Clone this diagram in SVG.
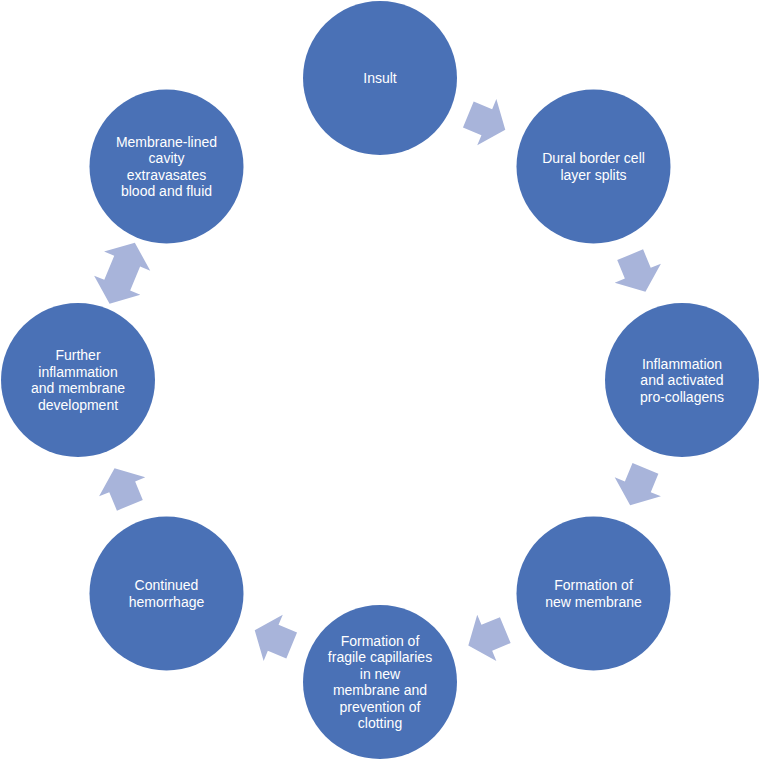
<svg xmlns="http://www.w3.org/2000/svg" width="760" height="760" viewBox="0 0 760 760">
<style>
.node{fill:#4A71B6}
.lbl{font-family:"Liberation Sans",Arial,sans-serif;font-size:14px;fill:#FFFFFF;text-anchor:middle}
.arr{fill:#A8B4DA}
</style>
<defs>
<path id="a1" d="M20,0 L0,-25 L0,-14 L-20,-14 L-20,14 L0,14 L0,25 Z"/>
<path id="a2" d="M33,0 L13,-25 L13,-14 L-13,-14 L-13,-25 L-33,0 L-13,25 L-13,14 L13,14 L13,25 Z"/>
</defs>
<rect width="760" height="760" fill="#FFFFFF"/>
<g id="connectors" class="arr">
<use href="#a1" transform="translate(486.8,122.2) rotate(22.5)"/>
<use href="#a1" transform="translate(637.8,273.2) rotate(67.5)"/>
<use href="#a1" transform="translate(637.8,486.8) rotate(112.5)"/>
<use href="#a1" transform="translate(486.8,637.8) rotate(157.5)"/>
<use href="#a1" transform="translate(273.2,637.8) rotate(202.5)"/>
<use href="#a1" transform="translate(122.2,486.8) rotate(247.5)"/>
<use href="#a2" transform="translate(122.2,273.2) rotate(292.5)"/>
</g>
<g id="insult">
<circle class="node" cx="380" cy="78" r="77"/>
<text class="lbl" x="380" y="83">Insult</text>
</g>
<g id="dural">
<circle class="node" cx="593.5" cy="166.5" r="77"/>
<text class="lbl" x="593.5"><tspan x="593.5" y="163.25">Dural border cell</tspan><tspan x="593.5" y="179.75">layer splits</tspan></text>
</g>
<g id="inflammation">
<circle class="node" cx="682" cy="380" r="77"/>
<text class="lbl"><tspan x="682" y="368.5">Inflammation</tspan><tspan x="682" y="385">and activated</tspan><tspan x="682" y="401.5">pro-collagens</tspan></text>
</g>
<g id="new-membrane">
<circle class="node" cx="593.5" cy="593.5" r="77"/>
<text class="lbl"><tspan x="593.5" y="590.25">Formation of</tspan><tspan x="593.5" y="606.75">new membrane</tspan></text>
</g>
<g id="capillaries">
<circle class="node" cx="380" cy="682" r="77"/>
<text class="lbl"><tspan x="380" y="645.75">Formation of</tspan><tspan x="380" y="662.25">fragile capillaries</tspan><tspan x="380" y="678.75">in new</tspan><tspan x="380" y="695.25">membrane and</tspan><tspan x="380" y="711.75">prevention of</tspan><tspan x="380" y="728.25">clotting</tspan></text>
</g>
<g id="hemorrhage">
<circle class="node" cx="166.5" cy="593.5" r="77"/>
<text class="lbl"><tspan x="166.5" y="590.25">Continued</tspan><tspan x="166.5" y="606.75">hemorrhage</tspan></text>
</g>
<g id="further">
<circle class="node" cx="78" cy="380" r="77"/>
<text class="lbl"><tspan x="78" y="360.25">Further</tspan><tspan x="78" y="376.75">inflammation</tspan><tspan x="78" y="393.25">and membrane</tspan><tspan x="78" y="409.75">development</tspan></text>
</g>
<g id="cavity">
<circle class="node" cx="166.5" cy="166.5" r="77"/>
<text class="lbl"><tspan x="166.5" y="146.75">Membrane-lined</tspan><tspan x="166.5" y="163.25">cavity</tspan><tspan x="166.5" y="179.75">extravasates</tspan><tspan x="166.5" y="196.25">blood and fluid</tspan></text>
</g>
</svg>
